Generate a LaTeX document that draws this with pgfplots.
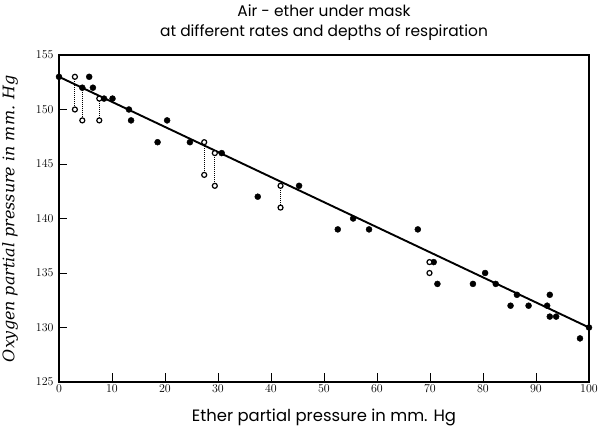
\documentclass[border=0pt]{standalone}
\usepackage{fontspec}
\usepackage{pgfplots}
\pgfplotsset{compat=1.18}
\newfontfamily\lettering{Poppins}
\newfontfamily\italserif{DejaVu Serif}
\begin{document}
\begin{tikzpicture}
\useasboundingbox (-59bp,-44bp) rectangle (540bp,382bp);
\begin{axis}[
  scale only axis, width=530bp, height=327bp,
  xmin=0, xmax=100, ymin=125, ymax=155,
  xtick={0,10,...,100}, ytick={125,130,...,155},
  tick align=inside, xtick pos=bottom, ytick pos=left,
  tick style={line width=0.9bp, black},
  major tick length=8.5bp,
  axis line style={line width=1.4bp},
  ticklabel style={font=\fontsize{13}{14}\selectfont},
  xticklabel style={yshift=1bp},
  yticklabel style={xshift=-2bp},
  xlabel={\lettering Ether partial pressure in mm. Hg},
  xlabel style={font=\fontsize{16.5}{18}\selectfont, at={(axis description cs:0.5,-0.1193)}, anchor=base},
  ylabel={\italserif\itshape Oxygen partial pressure in mm. Hg},
  ylabel style={font=\fontsize{16}{17}\selectfont, at={(axis description cs:-0.0925,0.5)}, anchor=center},
  every axis title shift=0pt,
  title={Air - ether under mask\\at different rates and depths of respiration},
  title style={align=center, font=\lettering\fontsize{15.5}{20}\selectfont, at={(axis description cs:0.5,1.0428)}, anchor=south, inner sep=0pt},
  clip=false,
]
% fitted line
\addplot[black, line width=1.9bp] coordinates {(0,153) (100,130)};
% dotted connectors
\addplot[black, densely dotted, line width=1bp] coordinates {(3,153) (3,150)};
\addplot[black, densely dotted, line width=1bp] coordinates {(4.4,152) (4.4,149)};
\addplot[black, densely dotted, line width=1bp] coordinates {(7.6,151) (7.6,149)};
\addplot[black, densely dotted, line width=1bp] coordinates {(27.4,147) (27.4,144)};
\addplot[black, densely dotted, line width=1bp] coordinates {(29.4,146) (29.4,143)};
\addplot[black, densely dotted, line width=1bp] coordinates {(41.8,143) (41.8,141)};
% filled points
\addplot[only marks, mark=*, mark size=3bp, black] coordinates {
(0,153) (4.4,152) (5.7,153) (6.4,152) (8.5,151) (10.1,151) (13.2,150) (13.6,149)
(18.6,147) (20.4,149) (24.7,147) (30.7,146) (37.5,142) (45.3,143)
(52.6,139) (55.5,140) (58.5,139) (67.7,139) (70.7,136) (71.4,134)
(78.1,134) (80.4,135) (82.4,134) (85.2,132) (86.4,133) (88.6,132)
(92.1,132) (92.6,133) (92.6,131) (93.8,131) (98.3,129) (100,130)
};
% open points
\addplot[only marks, mark=*, mark size=2.5bp, draw=black, fill=white, mark options={line width=1.2bp, fill=white}] coordinates {
(3,153) (3,150) (4.4,149) (7.6,151) (7.6,149) (27.4,147) (27.4,144)
(29.4,146) (29.4,143) (41.8,143) (41.8,141) (69.9,136) (69.9,135)
};
\end{axis}
\end{tikzpicture}
\end{document}
